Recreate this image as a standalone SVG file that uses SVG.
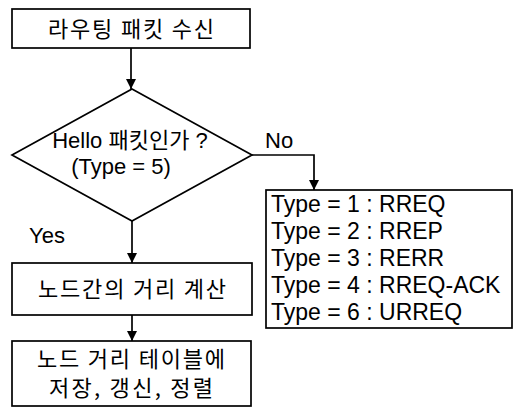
<svg xmlns="http://www.w3.org/2000/svg" width="519" height="407" viewBox="0 0 519 407">
<style>
.box{fill:#fff;stroke:#000;stroke-width:1.7}
.t{font-family:"Liberation Sans","Noto Sans CJK KR",Arial,sans-serif;font-size:22px;fill:#000}
.ty{font-size:23px}
.k{font-family:"Noto Sans CJK KR","Liberation Sans",sans-serif;font-size:22px;fill:#000}
.c{text-anchor:middle}
.ln{fill:none;stroke:#000;stroke-width:1.7}
</style>
<defs>
<marker id="ah" viewBox="0 0 10 12" refX="10" refY="6" markerWidth="10" markerHeight="12" markerUnits="userSpaceOnUse" orient="auto">
<path d="M0,1 L10,6 L0,11 Z" fill="#000"/>
</marker>
</defs>
<rect width="519" height="407" fill="#fff"/>
<g id="connectors">
<line class="ln" x1="131" y1="48" x2="131" y2="89" marker-end="url(#ah)"/>
<polyline class="ln" points="252,155 314,155 314,190" marker-end="url(#ah)"/>
<line class="ln" x1="132" y1="221" x2="132" y2="263" marker-end="url(#ah)"/>
<line class="ln" x1="132" y1="315" x2="132" y2="341" marker-end="url(#ah)"/>
<text class="t" x="265" y="148">No</text>
<text class="t" x="29" y="243">Yes</text>
</g>
<g id="n1">
<rect class="box" x="12" y="9" width="238" height="39"/>
<text class="k c" x="131" y="37" textLength="166" lengthAdjust="spacing">라우팅 패킷 수신</text>
</g>
<g id="n2">
<polygon class="box" points="132,89 252,155 132,221 12,155"/>
<text class="t c" x="130" y="148">Hello 패킷인가 ?</text>
<text class="t c" x="121" y="174">(Type = 5)</text>
</g>
<g id="n3">
<rect class="box" x="266" y="190" width="246" height="138"/>
<text class="t ty" x="271" y="212">Type = 1 : RREQ</text>
<text class="t ty" x="271" y="239">Type = 2 : RREP</text>
<text class="t ty" x="271" y="266">Type = 3 : RERR</text>
<text class="t ty" x="271" y="293">Type = 4 : RREQ-ACK</text>
<text class="t ty" x="271" y="320">Type = 6 : URREQ</text>
</g>
<g id="n4">
<rect class="box" x="12" y="263" width="240" height="52"/>
<text class="k c" x="132" y="297" textLength="188" lengthAdjust="spacing">노드간의 거리 계산</text>
</g>
<g id="n5">
<rect class="box" x="12" y="341" width="239" height="65"/>
<text class="k c" x="131" y="367" textLength="188" lengthAdjust="spacing">노드 거리 테이블에</text>
<text class="k c" x="131" y="396" textLength="164" lengthAdjust="spacing">저장, 갱신, 정렬</text>
</g>
</svg>
